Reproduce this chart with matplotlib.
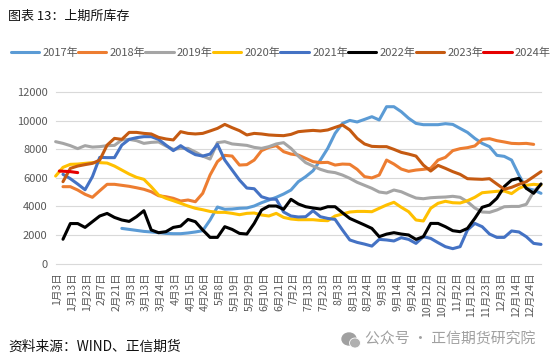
import numpy as np
import matplotlib
matplotlib.use("Agg")
import matplotlib.pyplot as plt
from matplotlib.patches import Ellipse

plt.rcParams['font.family'] = ['Noto Sans CJK SC', 'DejaVu Sans']

# tick labels of the category axis
tick_labels = ["1月3日", "1月13日", "1月23日", "2月7日", "2月21日", "3月3日", "3月13日", "3月24日",
               "4月3日", "4月15日", "4月26日", "5月8日", "5月19日", "5月29日", "6月10日", "6月21日",
               "7月2日", "7月13日", "7月23日", "8月3日", "8月13日", "8月24日", "9月3日", "9月14日",
               "9月24日", "10月12日", "10月22日", "11月2日", "11月12日", "11月23日", "12月3日",
               "12月14日", "12月24日"]
y_ticks = [0, 2000, 4000, 6000, 8000, 10000, 12000]

# values are read every half tick label, first_x is where each series begins
y2017 = [2460, 2390, 2320, 2250, 2210, 2160, 2110, 2090, 2090, 2140, 2210, 2300, 3050, 3960, 3800, 3820,
         3870, 3890, 4030, 4260, 4450, 4640, 4870, 5150, 5735, 6085, 6500, 7250, 8070, 9120, 9820, 10030,
         9920, 10100, 10290, 10060, 10990, 10990, 10640, 10180, 9820, 9730, 9730, 9730, 9800, 9750, 9470,
         9190, 8770, 8420, 8190, 7580, 7510, 7250, 6200, 5270, 5150, 4920]
y2018 = [5385, 5385, 5150, 4850, 4640, 5100, 5550, 5550, 5480, 5410, 5310, 5200, 5030, 4750, 4680, 4570,
         4380, 4450, 4330, 4920, 6200, 7140, 7580, 7530, 6900, 6930, 7250, 7910, 8140, 8260, 7840, 7670,
         7600, 7370, 7140, 7070, 7090, 6900, 6970, 6950, 6600, 6090, 6000, 6200, 7250, 6970, 6620, 6460,
         6550, 6600, 6670, 7250, 7440, 7910, 8050, 8120, 8240, 8700, 8750, 8610, 8520, 8420, 8400, 8420,
         8350]
y2019 = [8540, 8420, 8260, 8050, 8260, 8160, 8190, 8260, 8280, 8660, 8700, 8610, 8420, 8490, 8520, 8240,
         8000, 8070, 8070, 7815, 7530, 7320, 8470, 8540, 8380, 8330, 8280, 8140, 8070, 8190, 8380, 8470,
         8070, 7530, 7070, 6830, 6600, 6440, 6370, 6200, 5970, 5690, 5480, 5270, 5010, 4940, 5150, 5030,
         4800, 4590, 4540, 4610, 4640, 4660, 4710, 4640, 4330, 3890, 3610, 3585, 3750, 3980, 4000, 4000,
         4150, 5030, 5570]
y2020 = [6130, 6740, 6950, 6970, 7020, 7070, 7070, 7040, 6830, 6550, 6270, 6040, 5900, 5380, 4800, 4570,
         4400, 4220, 4030, 3870, 3770, 3650, 3585, 3585, 3515, 3420, 3515, 3540, 3400, 3330, 3515, 3230,
         3120, 3070, 3070, 3070, 3020, 3000, 3330, 3470, 3610, 3650, 3650, 3630, 3870, 4100, 4290, 3940,
         3630, 3050, 2980, 3870, 4220, 4360, 4260, 4240, 4400, 4640, 4960, 5010, 5060, 5080, 4900, 5270,
         5480, 5550, 5500]
y2021 = [6250, 5945, 5570, 5170, 6085, 7440, 7420, 7420, 8300, 8700, 8820, 8890, 8890, 8700, 8300, 7910,
         8260, 7910, 7630, 7530, 7670, 8350, 7250, 6550, 5850, 5290, 5240, 4680, 4520, 4500, 3610, 3330,
         3260, 3280, 3700, 3280, 3160, 3090, 2350, 1650, 1480, 1360, 1220, 1690, 1650, 1580, 1810, 1690,
         1410, 1880, 1760, 1460, 1180, 1040, 1180, 2350, 2810, 2580, 2065, 1830, 1830, 2280, 2210, 1880,
         1410, 1340]
y2022 = [1700, 2800, 2800, 2530, 2930, 3330, 3510, 3230, 3050, 2950, 3280, 3700, 2350, 2160, 2230, 2530,
         2620, 3090, 2930, 2350, 1830, 1830, 2580, 2390, 2110, 2065, 2810, 3750, 4030, 4030, 3800, 4500,
         4170, 3980, 3890, 3820, 3980, 3980, 3560, 3160, 2930, 2700, 2460, 1880, 2060, 2160, 2065, 2000,
         1690, 1880, 2810, 2810, 2580, 2300, 2230, 2460, 3160, 3940, 4100, 4570, 5390, 5850, 5970, 5270,
         4920, 5570]
y2023 = [5735, 6670, 6830, 6930, 7020, 7250, 8300, 8770, 8700, 9190, 9190, 9120, 9080, 8840, 8730, 8660,
         9240, 9120, 9080, 9120, 9290, 9470, 9750, 9520, 9310, 9010, 9120, 9080, 9010, 8980, 8960, 9050,
         9240, 9290, 9330, 9290, 9360, 9540, 9710, 9360, 8770, 8380, 8210, 8190, 8190, 8000, 7790, 7670,
         7530, 6900, 6480, 6880, 6670, 6440, 6250, 5945, 5920, 5900, 5945, 5570, 5200, 5340, 5550, 5735,
         6085, 6440]
y2024 = [6480, 6440, 6370]

series = [("2017年", y2017, 8, "#5B9BD5"),
          ("2018年", y2018, 0, "#ED7D31"),
          ("2019年", y2019, -1, "#A5A5A5"),
          ("2020年", y2020, -1, "#FFC000"),
          ("2021年", y2021, 0, "#4472C4"),
          ("2022年", y2022, 0, "#000000"),
          ("2023年", y2023, 0, "#C55A11"),
          ("2024年", y2024, 0, "#E60000")]

W, H = 553, 363
fig = plt.figure(figsize=(W / 100, H / 100), dpi=100, facecolor="white")
ax = fig.add_axes([56 / W, 1 - 263.5 / H, 485 / W, 171.2 / H])

for name, vals, first_x, col in series:
    x = np.arange(len(vals)) + first_x
    if name == "2024年":
        x = x - 0.5 * (np.arange(len(vals)) == 0)
    ax.plot(x, vals, color=col, lw=2.2, label=name, solid_joinstyle="round", solid_capstyle="round", clip_on=False)

ax.set_xlim(-0.95, 65)
ax.set_ylim(0, 12000)
ax.set_yticks(y_ticks)
ax.set_xticks(-0.78 + 2.011 * np.arange(len(tick_labels)))
ax.set_xticklabels(tick_labels, rotation=90, fontsize=7.6, color="#595959", va="top", ha="center")
ax.tick_params(axis="y", length=0, pad=6, labelsize=8, labelcolor="#595959")
ax.tick_params(axis="x", length=0, pad=6.5)
for s in ax.spines.values():
    s.set_visible(False)
ax.grid(axis="y", color="#D9D9D9", lw=0.8)
ax.set_axisbelow(True)
for g in ax.get_ygridlines():
    g.set_clip_on(False)

fig.legend(loc="center left", bbox_to_anchor=(10.5 / W, 1 - 53 / H), ncol=8, frameon=False,
           fontsize=8, labelcolor="#595959", handlelength=2.55, handletextpad=0.3,
           columnspacing=0.0, borderpad=0, borderaxespad=0)

fig.text(8 / W, 1 - 16 / H, "图表 13：上期所库存", fontsize=9.4, color="#111111", va="center", ha="left")
fig.text(8 / W, 1 - 347 / H, "资料来源：WIND、正信期货", fontsize=9.9, color="#111111", va="center", ha="left")
fig.text(365 / W, 1 - 340 / H, "公众号 · 正信期货研究院", fontsize=10.7, color="#A0A0A0", va="center", ha="left")

# wechat mark beside the watermark
bg = fig.add_axes([0, 0, 1, 1], facecolor="none")
bg.set_xlim(0, W)
bg.set_ylim(H, 0)
bg.axis("off")
bg.add_patch(Ellipse((349, 339), 14, 12, color="#A0A0A0"))
bg.add_patch(Ellipse((355, 343), 11, 10, fc="#B0B0B0", ec="white", lw=0.6))

fig.savefig("out.png", dpi=100)
